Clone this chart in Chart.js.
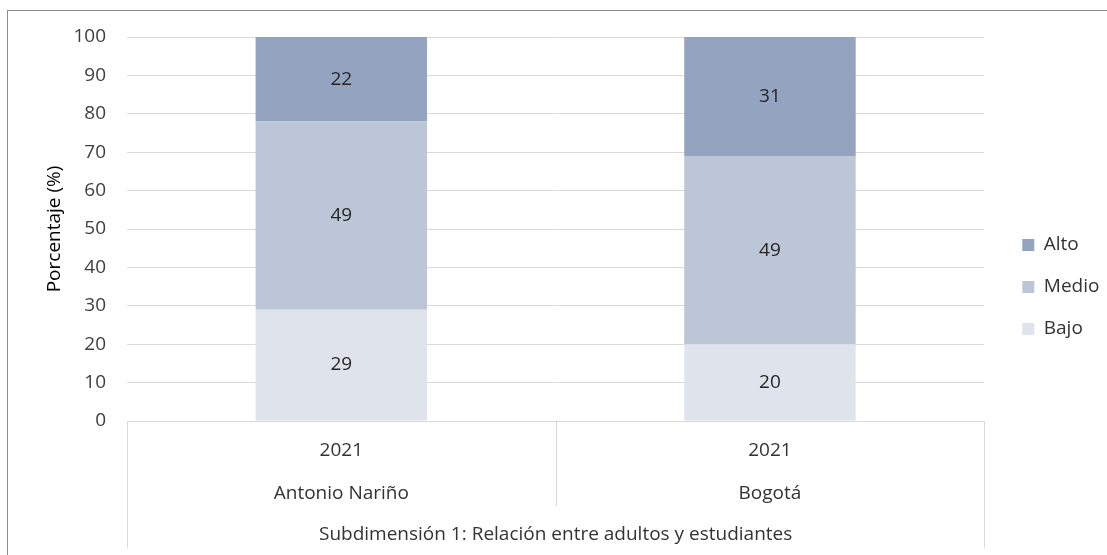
<!DOCTYPE html>
<html><head><meta charset="utf-8">
<script src="https://cdn.jsdelivr.net/npm/chart.js@4/dist/chart.umd.min.js"></script>
<style>
html,body{margin:0;padding:0;background:#fff;overflow:hidden;}
#wrap{position:relative;width:1107px;height:555px;}
#frame{position:absolute;left:7px;top:10px;width:1300px;height:800px;border:1px solid #8c8c8c;box-sizing:border-box;pointer-events:none;}
</style></head>
<body><div id="wrap"><canvas id="c" width="1107" height="555"></canvas><div id="frame"></div></div>
<script>
const categories = [['2021','Antonio Nariño'], ['2021','Bogotá']];
const groupLabel = 'Subdimensión 1: Relación entre adultos y estudiantes';
const seriesNames = ['Bajo', 'Medio', 'Alto'];
const bajo = [29, 20];
const medio = [49, 49];
const alto = [22, 31];
const seriesColors = ['#dfe4ec', '#bdc6d7', '#94a3bf'];
const yTitle = 'Porcentaje (%)';

const FONT = '"Open Sans", Lato, sans-serif';
Chart.defaults.font.family = FONT;
Chart.defaults.color = '#404040';

const separators = {
  id: 'separators',
  afterDraw(chart) {
    const xs = chart.scales.x, ctx = chart.ctx;
    const mid = (xs.getPixelForValue(0) + xs.getPixelForValue(1)) / 2;
    ctx.save();
    ctx.strokeStyle = '#d9d9d9';
    ctx.lineWidth = 1;
    ctx.beginPath();
    ctx.moveTo(Math.round(xs.left) + 0.5, xs.top); ctx.lineTo(Math.round(xs.left) + 0.5, xs.bottom - 7);
    ctx.moveTo(Math.round(xs.right) + 0.5, xs.top); ctx.lineTo(Math.round(xs.right) + 0.5, xs.bottom - 7);
    ctx.moveTo(Math.round(mid) + 0.5, xs.top); ctx.lineTo(Math.round(mid) + 0.5, xs.top + 85);
    ctx.stroke();
    ctx.restore();
  }
};

const dataLabels = {
  id: 'dataLabels',
  afterDatasetsDraw(chart) {
    const ctx = chart.ctx;
    ctx.save();
    ctx.font = '19px ' + FONT;
    ctx.fillStyle = '#262626';
    ctx.textAlign = 'center';
    ctx.textBaseline = 'middle';
    chart.data.datasets.forEach((ds, i) => {
      chart.getDatasetMeta(i).data.forEach((bar, j) => {
        ctx.fillText(String(ds.data[j]), bar.x, (bar.y + bar.base) / 2);
      });
    });
    ctx.restore();
  }
};

const legendShift = {
  id: 'legendShift',
  afterLayout(chart) {
    const lg = chart.legend;
    const w = lg.width;
    lg.left = chart.chartArea.right + 15; lg.right = lg.left + w;
    lg.top -= 9; lg.bottom -= 9;
  }
};

new Chart(document.getElementById('c'), {
  type: 'bar',
  data: {
    labels: categories,
    datasets: [
      { label: seriesNames[0], data: bajo, backgroundColor: seriesColors[0] },
      { label: seriesNames[1], data: medio, backgroundColor: seriesColors[1] },
      { label: seriesNames[2], data: alto, backgroundColor: seriesColors[2] }
    ]
  },
  options: {
    responsive: false,
    animation: false,
    layout: { padding: { top: 37, right: 12.6, bottom: 0, left: 0 } },
    datasets: { bar: { categoryPercentage: 1, barPercentage: 0.4 } },
    plugins: {
      legend: {
        position: 'right',
        reverse: true,
        labels: { boxWidth: 12, boxHeight: 12, padding: 23, color: '#333333', font: { size: 19 } }
      },
      tooltip: { enabled: false }
    },
    scales: {
      x: {
        stacked: true,
        grid: { display: true, drawOnChartArea: false, drawTicks: false },
        border: { display: true, color: '#d9d9d9' },
        ticks: { padding: 8, color: '#333333', font: { size: 19, lineHeight: 43 / 19 }, maxRotation: 0 },
        title: { display: true, text: groupLabel, color: '#333333', font: { size: 19 }, padding: { top: 0, bottom: 9 } },
        afterFit(s) { s.height = 134; }
      },
      y: {
        stacked: true,
        min: 0, max: 100,
        grid: { color: '#d9d9d9', drawTicks: false },
        border: { display: false },
        ticks: { stepSize: 10, padding: 21, color: '#404040', font: { size: 19 } },
        title: { display: true, text: yTitle, color: '#000', font: { size: 19 }, padding: { top: 43, bottom: 0 } },
        afterFit(s) { s.width = 127; }
      }
    }
  },
  plugins: [separators, dataLabels, legendShift]
});
</script>
</body></html>
